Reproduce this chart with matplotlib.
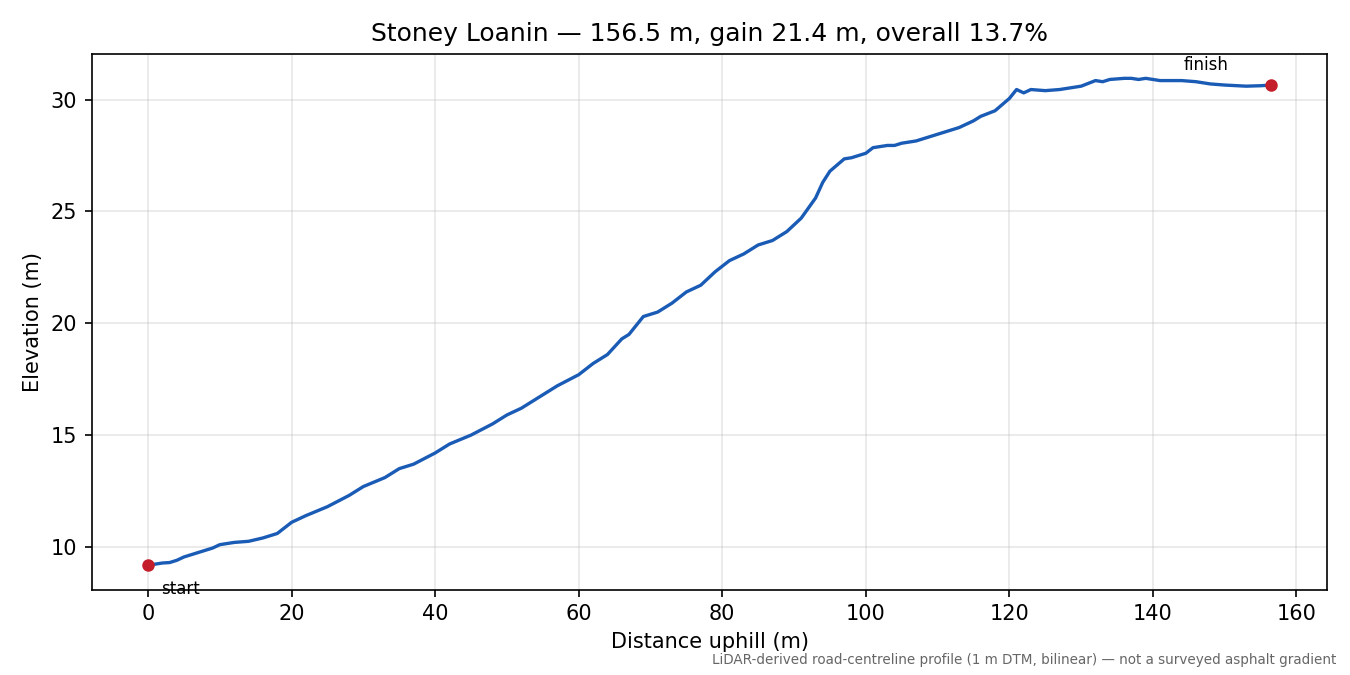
import matplotlib
matplotlib.use("Agg")
import matplotlib.pyplot as plt

# elevation profile
distance = [0, 2, 3, 4, 5, 7, 9, 10, 12, 14, 16, 18, 20, 22, 25, 28, 30, 33, 35, 37,
            40, 42, 45, 48, 50, 52, 55, 57, 60, 62, 64, 66, 67, 69, 71, 73, 75, 77, 79,
            81, 83, 85, 87, 89, 91, 93, 94, 95, 97, 98, 100, 101, 103, 104, 105, 107,
            109, 111, 113, 115, 116, 118, 120, 121, 122, 123, 125, 127, 129, 130, 132,
            133, 134, 136, 137, 138, 139, 141, 144, 146, 148, 150, 153, 155, 156.5]
elevation = [9.18, 9.28, 9.3, 9.4, 9.55, 9.75, 9.95, 10.1, 10.2, 10.25, 10.4, 10.6, 11.1,
             11.4, 11.8, 12.3, 12.7, 13.1, 13.5, 13.7, 14.2, 14.6, 15.0, 15.5, 15.9, 16.2,
             16.8, 17.2, 17.7, 18.2, 18.6, 19.3, 19.5, 20.3, 20.5, 20.9, 21.4, 21.7, 22.3,
             22.8, 23.1, 23.5, 23.7, 24.1, 24.7, 25.6, 26.3, 26.8, 27.35, 27.4, 27.6,
             27.85, 27.95, 27.95, 28.05, 28.15, 28.35, 28.55, 28.75, 29.05, 29.25, 29.5,
             30.05, 30.45, 30.3, 30.45, 30.4, 30.45, 30.55, 30.6, 30.85, 30.8, 30.9,
             30.95, 30.95, 30.9, 30.95, 30.85, 30.85, 30.8, 30.7, 30.65, 30.6, 30.62, 30.65]

fig, ax = plt.subplots(figsize=(9, 4.5), dpi=150)
ax.plot(distance, elevation, color="#1a5bb5", linewidth=1.6)
ax.plot([distance[0], distance[-1]], [elevation[0], elevation[-1]], "o",
        color="#c41e2a", markersize=5, zorder=3)
ax.annotate("start", (distance[0], elevation[0]), xytext=(6, -14),
            textcoords="offset points", fontsize=8)
ax.annotate("finish", (distance[-1], elevation[-1]), xytext=(-42, 7),
            textcoords="offset points", fontsize=8)

ax.set_title("Stoney Loanin \u2014 156.5 m, gain 21.4 m, overall 13.7%")
ax.set_xlabel("Distance uphill (m)")
ax.set_ylabel("Elevation (m)")
ax.grid(True, alpha=0.3)

fig.tight_layout()
fig.text(0.99, 0.012, "LiDAR-derived road-centreline profile (1 m DTM, bilinear) \u2014 not a surveyed asphalt gradient",
         ha="right", va="bottom", fontsize=6.5, color="#666666")
fig.savefig("out.png", dpi=150)
